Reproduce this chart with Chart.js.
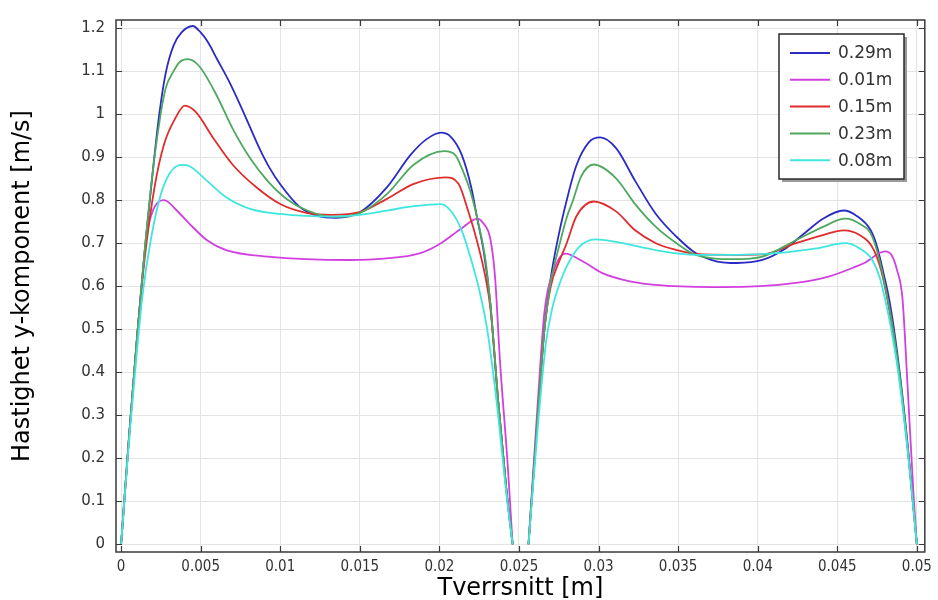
<!DOCTYPE html>
<html><head><meta charset="utf-8">
<script src="https://cdn.jsdelivr.net/npm/chart.js@4/dist/chart.umd.min.js"></script>
<style>html,body{margin:0;padding:0;background:#fff;overflow:hidden}</style>
</head><body>
<canvas id="c" width="938" height="600"></canvas>
<script>
// ---- data ----
const seriesLabels = ['0.29m', '0.01m', '0.15m', '0.23m', '0.08m'];
const seriesColors = ['#2b2bc4', '#d23fe0', '#e02c2c', '#4ea85e', '#3fe6e0'];

const xTicks = [0, 0.005, 0.01, 0.015, 0.02, 0.025, 0.03, 0.035, 0.04, 0.045, 0.05];
const xTickLabels = ['0', '0.005', '0.01', '0.015', '0.02', '0.025', '0.03', '0.035', '0.04', '0.045', '0.05'];
const yTicks = [0, 0.1, 0.2, 0.3, 0.4, 0.5, 0.6, 0.7, 0.8, 0.9, 1.0, 1.1, 1.2];
const yTickLabels = ['0', '0.1', '0.2', '0.3', '0.4', '0.5', '0.6', '0.7', '0.8', '0.9', '1', '1.1', '1.2'];

// 0.29m
const x029 = [0,0.0005,0.0010,0.0015,0.0020,0.0024,0.0028,0.0033,0.0038,0.0045,0.0050,0.0055,0.0060,0.0068,0.0075,0.0081,0.0087,0.0093,0.0100,0.0112,0.0123,0.0135,0.0150,0.0167,0.0182,0.0192,0.0201,0.0207,0.0214,0.0220,0.0224,0.0228,0.0232,0.0237,0.0242,0.0246,
  0.0251,
  0.0256,0.0262,0.0266,0.0270,0.0275,0.0280,0.0286,0.0294,0.0301,0.0311,0.0323,0.0336,0.0349,0.0361,0.0374,0.0387,0.0403,0.0416,0.0429,0.0441,0.0454,0.0462,0.0471,0.0475,0.0479,0.0483,0.04875,0.0494,0.0500];
const v029 = [0,0.25,0.48,0.69,0.87,1.00,1.095,1.16,1.19,1.205,1.19,1.165,1.13,1.075,1.02,0.97,0.92,0.877,0.837,0.785,0.764,0.759,0.772,0.83,0.906,0.942,0.957,0.948,0.906,0.83,0.753,0.677,0.56,0.33,0.13,0,
  null,
  0,0.31,0.50,0.62,0.72,0.80,0.88,0.935,0.946,0.921,0.845,0.768,0.715,0.677,0.658,0.654,0.661,0.684,0.722,0.757,0.776,0.764,0.73,0.692,0.631,0.562,0.45,0.24,0];

// 0.01m
const x001 = [0,0.0005,0.0010,0.0016,0.0020,0.0027,0.0035,0.0043,0.0054,0.0066,0.0092,0.0144,0.0165,0.0188,0.0201,0.0214,0.0224,0.0227,0.0232,0.0235,0.0238,0.0243,0.0246,
  0.0251,
  0.0256,0.0262,0.0266,0.0272,0.0279,0.0290,0.0302,0.0319,0.0340,0.0378,0.0424,0.0445,0.0462,0.0467,0.0480,0.0484,0.04875,0.0491,0.0494,0.0498,0.0500];
const v001 = [0,0.25,0.48,0.715,0.776,0.80,0.776,0.745,0.707,0.684,0.669,0.661,0.664,0.677,0.70,0.735,0.757,0.749,0.71,0.62,0.43,0.18,0,
  null,
  0,0.34,0.54,0.638,0.676,0.658,0.631,0.612,0.602,0.598,0.608,0.623,0.646,0.654,0.681,0.673,0.638,0.57,0.38,0.11,0];

// 0.15m
const x015 = [0,0.0005,0.0010,0.0015,0.0021,0.0027,0.0034,0.0040,0.0047,0.0058,0.0070,0.0085,0.0100,0.0117,0.0132,0.0150,0.0167,0.0184,0.0204,0.0212,0.0218,0.0224,0.0229,0.0232,0.0237,0.0242,0.0246,
  0.0251,
  0.0256,0.0262,0.0266,0.0270,0.0275,0.0280,0.0286,0.0297,0.0311,0.0323,0.0336,0.0349,0.0361,0.0385,0.0403,0.0424,0.0441,0.0454,0.0464,0.0473,0.0479,0.04875,0.0494,0.0500];
const v015 = [0,0.25,0.48,0.67,0.83,0.93,0.99,1.02,1.005,0.944,0.883,0.83,0.791,0.770,0.766,0.772,0.803,0.838,0.853,0.838,0.776,0.70,0.62,0.55,0.33,0.13,0,
  null,
  0,0.31,0.50,0.60,0.655,0.70,0.762,0.797,0.774,0.73,0.70,0.684,0.675,0.673,0.674,0.70,0.719,0.730,0.719,0.684,0.615,0.43,0.23,0];

// 0.23m
const x023 = [0,0.0005,0.0010,0.0015,0.0020,0.0024,0.0028,0.0033,0.0037,0.0042,0.0049,0.0060,0.0070,0.0081,0.0092,0.0104,0.0117,0.0134,0.0150,0.0167,0.0184,0.0203,0.0210,0.0214,0.0220,0.0225,0.0229,0.0232,0.0237,0.0242,0.0246,
  0.0251,
  0.0256,0.0262,0.0266,0.0270,0.0275,0.0280,0.0284,0.0289,0.0297,0.0311,0.0323,0.0336,0.0349,0.0361,0.0385,0.0403,0.0424,0.0441,0.0455,0.0464,0.0472,0.0479,0.04875,0.0494,0.0500];
const v023 = [0,0.25,0.48,0.69,0.87,0.98,1.06,1.10,1.122,1.128,1.112,1.044,0.967,0.898,0.845,0.803,0.776,0.761,0.770,0.814,0.883,0.914,0.905,0.875,0.814,0.738,0.66,0.56,0.33,0.13,0,
  null,
  0,0.31,0.50,0.61,0.69,0.76,0.80,0.855,0.883,0.851,0.791,0.738,0.70,0.673,0.663,0.669,0.707,0.738,0.757,0.745,0.715,0.62,0.44,0.235,0];

// 0.08m
const x008 = [0,0.0005,0.0010,0.00135,0.0019,0.0025,0.0031,0.0038,0.0043,0.0054,0.0066,0.0081,0.0100,0.0133,0.0150,0.0167,0.0184,0.0201,0.0207,0.0214,0.0220,0.0225,0.0230,0.0236,0.0242,0.0246,
  0.0251,
  0.0256,0.0262,0.0267,0.0271,0.0275,0.0280,0.0288,0.0298,0.0311,0.0336,0.0361,0.0386,0.0412,0.0437,0.0455,0.0464,0.0472,0.0477,0.04875,0.0494,0.0500];
const v008 = [0,0.24,0.45,0.58,0.715,0.814,0.865,0.882,0.879,0.845,0.807,0.78,0.768,0.762,0.766,0.776,0.786,0.791,0.776,0.73,0.661,0.592,0.50,0.33,0.12,0,
  null,
  0,0.28,0.47,0.55,0.60,0.646,0.692,0.709,0.703,0.684,0.673,0.673,0.677,0.688,0.700,0.688,0.661,0.616,0.42,0.225,0];

const seriesX = [x029, x001, x015, x023, x008];
const seriesV = [v029, v001, v015, v023, v008];
const drawOrder = [4, 3, 2, 1, 0]; // higher = drawn earlier (cyan on top)

// ---- chart ----
const FONT = "'DejaVu Sans', sans-serif";
const datasets = seriesLabels.map((lab, i) => ({
  label: lab,
  data: seriesX[i].map((x, j) => ({ x: x, y: seriesV[i][j] })),
  borderColor: seriesColors[i],
  backgroundColor: seriesColors[i],
  borderWidth: 1.8,
  pointRadius: 0,
  fill: false,
  spanGaps: false,
  cubicInterpolationMode: 'monotone',
  order: drawOrder[i]
}));

const framePlugin = {
  id: 'frameLegend',
  beforeDraw(chart) {
    const ctx = chart.ctx;
    ctx.save();
    ctx.fillStyle = '#ffffff';
    ctx.fillRect(0, 0, chart.width, chart.height);
    ctx.restore();
  },
  afterDatasetsDraw(chart) {
    const { ctx, chartArea: a, scales } = chart;
    const xs = scales.x, ys = scales.y;
    ctx.save();
    // frame
    ctx.strokeStyle = '#3a3a3a';
    ctx.lineWidth = 1.5;
    ctx.strokeRect(a.left, a.top, a.right - a.left, a.bottom - a.top);
    // inner ticks
    ctx.lineWidth = 1.2;
    ctx.beginPath();
    xTicks.forEach(v => {
      const p = Math.round(xs.getPixelForValue(v)) + 0.5;
      ctx.moveTo(p, a.bottom); ctx.lineTo(p, a.bottom - 6);
      ctx.moveTo(p, a.top); ctx.lineTo(p, a.top + 6);
    });
    yTicks.forEach(v => {
      const p = Math.round(ys.getPixelForValue(v)) + 0.5;
      ctx.moveTo(a.left, p); ctx.lineTo(a.left + 6, p);
      ctx.moveTo(a.right, p); ctx.lineTo(a.right - 6, p);
    });
    ctx.stroke();

    // legend box
    const bx = 779, by = 34, bw = 125, bh = 145;
    ctx.fillStyle = '#9a9a9a';
    ctx.fillRect(bx + 3, by + 3, bw, bh);
    ctx.fillStyle = '#ffffff';
    ctx.fillRect(bx, by, bw, bh);
    ctx.strokeStyle = '#2a2a2a';
    ctx.lineWidth = 1.5;
    ctx.strokeRect(bx, by, bw, bh);
    ctx.font = "17px " + FONT;
    ctx.textBaseline = 'middle';
    ctx.textAlign = 'left';
    seriesLabels.forEach((lab, i) => {
      const yy = by + 19 + i * 26.8;
      ctx.strokeStyle = seriesColors[i];
      ctx.lineWidth = 2;
      ctx.beginPath();
      ctx.moveTo(bx + 11, yy); ctx.lineTo(bx + 51, yy);
      ctx.stroke();
      ctx.fillStyle = '#333333';
      ctx.fillText(lab, bx + 59, yy + 1);
    });
    ctx.restore();
  }
};

new Chart(document.getElementById('c'), {
  type: 'line',
  data: { datasets: datasets },
  options: {
    responsive: false,
    animation: false,
    devicePixelRatio: 1,
    layout: { padding: { left: 0, right: 13, top: 14, bottom: 0 } },
    plugins: { legend: { display: false }, tooltip: { enabled: false }, title: { display: false } },
    scales: {
      x: {
        type: 'linear',
        min: -0.00032,
        max: 0.0505,
        afterFit: s => { s.height = 48; },
        afterBuildTicks: s => { s.ticks = xTicks.map(v => ({ value: v })); },
        border: { display: false },
        grid: { color: '#e3e3e3', lineWidth: 1, drawTicks: false },
        ticks: {
          autoSkip: false, maxRotation: 0, padding: 6,
          color: '#333333',
          font: { family: "'DejaVu Sans Condensed', 'DejaVu Sans', sans-serif", size: 15 },
          callback: (v, i) => xTickLabels[i]
        },
        title: {
          display: true, text: 'Tverrsnitt [m]', color: '#000000',
          font: { family: FONT, size: 24 },
          padding: { top: 0, bottom: -3 }
        }
      },
      y: {
        type: 'linear',
        min: -0.018,
        max: 1.219,
        afterFit: s => { s.width = 116; },
        afterBuildTicks: s => { s.ticks = yTicks.map(v => ({ value: v })); },
        border: { display: false },
        grid: { color: '#e3e3e3', lineWidth: 1, drawTicks: false },
        ticks: {
          autoSkip: false, padding: 11,
          color: '#333333',
          font: { family: FONT, size: 15 },
          callback: (v, i) => yTickLabels[i]
        },
        title: {
          display: true, text: 'Hastighet y-komponent [m/s]', color: '#000000',
          font: { family: FONT, size: 24 },
          padding: { top: 8, bottom: 0 }
        }
      }
    }
  },
  plugins: [framePlugin]
});
</script>
</body></html>
